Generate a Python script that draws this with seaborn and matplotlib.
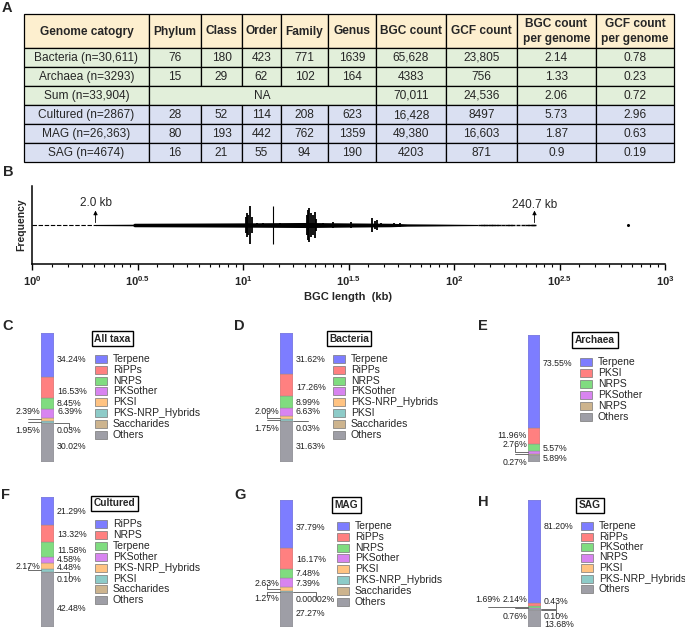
import matplotlib
matplotlib.use("Agg")
import matplotlib.pyplot as plt
from matplotlib.patches import Rectangle
from matplotlib.ticker import FixedLocator, FixedFormatter
import numpy as np
import seaborn as sns

# ---------------- estilo ----------------
sns.set_style("white")
plt.rcParams["font.family"] = ["Liberation Sans", "DejaVu Sans"]
plt.rcParams["mathtext.fontset"] = "custom"
plt.rcParams["mathtext.bf"] = "Liberation Sans:bold"
plt.rcParams["mathtext.rm"] = "Liberation Sans"

W, H = 685, 629

# ---------------- A: tabela ----------------
tab_header = ["Genome catogry", "Phylum", "Class", "Order", "Family", "Genus",
              "BGC count", "GCF count", "BGC count\nper genome", "GCF count\nper genome"]
genome_cat = ["Bacteria (n=30,611)", "Archaea (n=3293)", "Sum (n=33,904)",
              "Cultured (n=2867)", "MAG (n=26,363)", "SAG (n=4674)"]
phylum = [76, 15, None, 28, 80, 16]
klass = [180, 29, None, 52, 193, 21]
order = [423, 62, None, 114, 442, 55]
family = [771, 102, None, 208, 762, 94]
genus = [1639, 164, None, 623, 1359, 190]
bgc_count = [65628, 4383, 70011, 16428, 49380, 4203]
gcf_count = [23805, 756, 24536, 8497, 16603, 871]
bgc_per_genome = ["2.14", "1.33", "2.06", "5.73", "1.87", "0.9"]
gcf_per_genome = ["0.78", "0.23", "0.72", "2.96", "0.63", "0.19"]

# ---------------- B: comprimento dos BGCs ----------------
body_len = [2.0, 3.0, 3.05, 6.0, 10.0, 20.0, 30.0, 50.0, 60.0, 80.0, 100.0, 130.0]
body_h = [0.015, 0.02, 0.045, 0.05, 0.055, 0.065, 0.055, 0.045, 0.03, 0.025, 0.02, 0.015]
spike_len = [10.3, 10.4, 10.6, 10.8, 11.0, 11.6, 12.4, 15.0, 20.0, 20.3, 20.6, 21.0,
             21.5, 21.9, 22.3, 24.0, 26.7, 32.4, 40.8, 42.0, 43.2, 45.0, 52.0, 55.5]
spike_h = [0.2, 0.31, 0.25, 0.49, 0.2, 0.06, 0.05, 0.05, 0.25, 0.38, 0.44, 0.3,
           0.25, 0.33, 0.15, 0.05, 0.07, 0.07, 0.19, 0.1, 0.14, 0.06, 0.06, 0.05]
thin_len = [13.9]
thin_h = [0.49]
left_tail = [1.0, 2.0]
right_tail = [133, 137, 141, 145, 149, 153, 158, 163, 170, 178, 185, 190, 200,
              213, 222, 229, 237, 240.7, 668]
min_len, max_len = 2.0, 240.7

# ---------------- C-H: composicao das classes ----------------
C_classes = ["Terpene", "RiPPs", "NRPS", "PKSother", "PKSI", "PKS-NRP_Hybrids", "Saccharides", "Others"]
C_pct = [34.24, 16.53, 8.45, 6.39, 2.39, 1.95, 0.03, 30.02]
D_classes = ["Terpene", "RiPPs", "NRPS", "PKSother", "PKS-NRP_Hybrids", "PKSI", "Saccharides", "Others"]
D_pct = [31.62, 17.26, 8.99, 6.63, 2.09, 1.75, 0.03, 31.63]
E_classes = ["Terpene", "PKSI", "NRPS", "PKSother", "NRPS", "Others"]
E_pct = [73.55, 11.96, 5.57, 2.76, 0.27, 5.89]
F_classes = ["RiPPs", "NRPS", "Terpene", "PKSother", "PKS-NRP_Hybrids", "PKSI", "Saccharides", "Others"]
F_pct = [21.29, 13.32, 11.58, 4.58, 4.48, 2.17, 0.10, 42.48]
G_classes = ["Terpene", "RiPPs", "NRPS", "PKSother", "PKSI", "PKS-NRP_Hybrids", "Saccharides", "Others"]
G_pct = [37.79, 16.17, 7.48, 7.39, 2.63, 1.27, 0.00002, 27.27]
H_classes = ["Terpene", "RiPPs", "PKSother", "NRPS", "PKSI", "PKS-NRP_Hybrids", "Others"]
H_pct = [81.20, 2.14, 1.69, 0.76, 0.43, 0.10, 13.68]

cores = {"azul": "#7D7DFF", "verm": "#FF8080", "verde": "#80DC80", "roxo": "#D884F0",
         "lar": "#FFC382", "teal": "#8DCBC8", "tan": "#CDB48E", "cinza": "#9E9EA6"}
seq8 = ["azul", "verm", "verde", "roxo", "lar", "teal", "tan", "cinza"]

# layout (pixels) de cada painel
paineis = [
    ("C", C_classes, C_pct, dict(bar=(41, 333, 54, 462), letra=(8, 326), titulo="All taxa",
        tit=(112.5, 338.5), leg=(95, 359, 10.8), cores=seq8,
        rot=[("r", 79.8, False, 0), ("r", 55.0, False, 0), ("r", 45.7, False, 0), ("r", 39.5, False, 0),
             ("l", 39.5, True, 0), ("l", 24.8, True, 0), ("r", 24.8, True, 0), ("r", 12.4, False, 0)])),
    ("D", D_classes, D_pct, dict(bar=(280, 333, 293, 462), letra=(239, 326), titulo="Bacteria",
        tit=(349, 338.5), leg=(333, 359, 10.8), cores=seq8,
        rot=[("r", 79.8, False, 0), ("r", 57.4, False, 0), ("r", 46.5, False, 0), ("r", 38.8, False, 0),
             ("l", 38.8, True, 0), ("l", 25.6, True, 0), ("r", 25.6, True, 0), ("r", 12.4, False, 0)])),
    ("E", E_classes, E_pct, dict(bar=(528, 335, 540, 462), letra=(483, 326), titulo="Archaea",
        tit=(595, 340), leg=(580, 362, 11.0),
        cores=["azul", "verm", "verde", "roxo", "tan", "cinza"],
        rot=[("r", 77.2, False, 0), ("l", 20.6, False, 0), ("r", 11.0, False, 0),
             ("l", 13.6, True, 0), ("l", -0.4, True, 0), ("r", 2.4, False, 0)])),
    ("F", F_classes, F_pct, dict(bar=(41, 497, 54, 627), letra=(6, 495), titulo="Cultured",
        tit=(114.5, 503.5), leg=(95, 524, 10.9), cores=seq8,
        rot=[("r", 88.5, False, 0), ("r", 70.8, False, 0), ("r", 58.5, False, 0), ("r", 52.3, False, 0),
             ("r", 45.4, False, 0), ("l", 46.9, True, 0), ("r", 36.9, True, 0), ("r", 14.6, False, 0)])),
    ("G", G_classes, G_pct, dict(bar=(280, 500, 293, 627), letra=(240, 495), titulo="MAG",
        tit=(346.5, 505), leg=(337, 526, 10.8), cores=seq8,
        rot=[("r", 78.7, False, 0), ("r", 52.8, False, 0), ("r", 42.5, False, 0), ("r", 34.6, False, 0),
             ("l", 34.6, True, 0), ("l", 22.8, True, 0), ("r", 21.3, True, 0), ("r", 11.0, False, 0)])),
    ("H", H_classes, H_pct, dict(bar=(528, 500, 541, 627), letra=(483, 502), titulo="SAG",
        tit=(590, 505.5), leg=(581, 526, 10.5),
        cores=["azul", "verm", "verde", "roxo", "lar", "teal", "cinza"],
        rot=[("r", 79.5, False, 0), ("l", 22.0, False, 0), ("l", 22.0, True, -27), ("l", 7.9, True, 0),
             ("r", 19.7, True, 0), ("r", 8.6, True, 0), ("r", 1.6, False, 0)])),
]


def eixo_px(fig, x0, y0, x1, y1):
    """Cria um eixo a partir de uma caixa em pixels (origem no canto superior esquerdo)."""
    return fig.add_axes([x0 / W, 1 - y1 / H, (x1 - x0) / W, (y1 - y0) / H])


def fmt_num(v):
    if isinstance(v, str):
        return v
    return f"{v:,}" if v >= 10000 else str(v)


def fmt_pct(v):
    return f"{v:.5f}%" if v < 0.01 else f"{v:.2f}%"


fig = plt.figure(figsize=(W / 100, H / 100), dpi=100)

# eixo de fundo em pixels para tabela, letras e legendas
ax0 = fig.add_axes([0, 0, 1, 1])
ax0.set_xlim(0, W)
ax0.set_ylim(H, 0)
ax0.axis("off")

letras = {"A": (7, 8), "B": (8, 172)}
for k, (lx, ly) in letras.items():
    ax0.text(lx, ly, k, ha="center", va="center", fontsize=10.5, fontweight="bold")

# ---- tabela ----
col_x = [24, 149, 201, 242, 281, 328, 376, 446, 517, 596, 674]
row_y = [14, 48, 67, 86, 105, 124, 143, 162]
fundo_cab = "#FDEFCF"
fundo_lin = ["#E2EFDA"] * 3 + ["#DAE0F2"] * 3
colunas = [phylum, klass, order, family, genus, bgc_count, gcf_count, bgc_per_genome, gcf_per_genome]

for c, nome in enumerate(tab_header):
    x0, x1 = col_x[c], col_x[c + 1]
    ax0.add_patch(Rectangle((x0, row_y[0]), x1 - x0, row_y[1] - row_y[0],
                            fc=fundo_cab, ec="black", lw=0.9))
    ax0.text((x0 + x1) / 2, (row_y[0] + row_y[1]) / 2 + 0.5, nome, ha="center", va="center",
             fontsize=8.6, fontweight="bold", linespacing=1.25)

for r, cat in enumerate(genome_cat):
    y0, y1 = row_y[r + 1], row_y[r + 2]
    celulas = [(col_x[0], col_x[1], cat)]
    if phylum[r] is None:
        celulas.append((col_x[1], col_x[6], "NA"))
        inicio = 5
    else:
        inicio = 0
    for c in range(inicio, len(colunas)):
        celulas.append((col_x[c + 1], col_x[c + 2], fmt_num(colunas[c][r])))
    for x0, x1, txt in celulas:
        ax0.add_patch(Rectangle((x0, y0), x1 - x0, y1 - y0, fc=fundo_lin[r], ec="black", lw=0.9))
        ax0.text((x0 + x1) / 2, (y0 + y1) / 2 + 0.5, txt, ha="center", va="center", fontsize=8.6)

# ---- B ----
axB = eixo_px(fig, 32, 186, 665, 264)
axB.set_facecolor("none")
axB.set_xscale("log")
axB.fill_between(body_len, [-h for h in body_h], body_h, color="black", lw=0)
axB.vlines(spike_len, [-h for h in spike_h], spike_h, color="black", lw=1.3)
axB.vlines(thin_len, [-h for h in thin_h], thin_h, color="black", lw=0.8)
axB.plot(left_tail, [0] * len(left_tail), color="black", lw=0.8, ls=(0, (4, 1.5)))
axB.plot(right_tail[:-1], [0] * (len(right_tail) - 1), ls="none", marker="_", ms=2.5,
         mew=1.0, color="black")
axB.plot(right_tail[-1:], [0], ls="none", marker="o", ms=1.2, color="black")
for comp, yt in [(min_len, 0.56), (max_len, 0.51)]:
    axB.annotate("", xy=(comp, 0.37), xytext=(comp, 0.06),
                 arrowprops=dict(arrowstyle="-|>", lw=0.6, color="black", mutation_scale=6,
                                 shrinkA=0, shrinkB=0))
    axB.text(comp, yt, f"{comp:.1f} kb", ha="center", va="center", fontsize=8.5)
axB.set_xlim(1, 1000)
axB.set_ylim(-1, 1)
sns.despine(ax=axB)
for s in ["left", "bottom"]:
    axB.spines[s].set_color("black")
    axB.spines[s].set_linewidth(1.1)
expo = np.arange(0, 3.01, 0.5)
maiores = 10 ** expo
menores = []
for a, b in zip(maiores[:-1], maiores[1:]):
    menores += [a + k * (b - a) / 9 for k in range(1, 9)]
axB.xaxis.set_major_locator(FixedLocator(maiores))
axB.xaxis.set_major_formatter(FixedFormatter([r"$\mathbf{10^{%g}}$" % e for e in expo]))
axB.xaxis.set_minor_locator(FixedLocator(menores))
axB.xaxis.set_minor_formatter(FixedFormatter([""] * len(menores)))
axB.tick_params(axis="x", which="major", direction="out", length=4, width=1.0,
                labelsize=8, pad=3, bottom=True, color="black")
axB.tick_params(axis="x", which="minor", direction="out", length=2.5, width=0.8,
                bottom=True, color="black")
axB.set_yticks([])
axB.set_xlabel("BGC length  (kb)", fontsize=8, fontweight="bold", labelpad=3)
axB.set_ylabel("Frequency", fontsize=7.5, fontweight="bold", labelpad=4)

# ---- C-H ----
for letra, classes, pct, lay in paineis:
    x0, y0, x1, y1 = lay["bar"]
    ax = eixo_px(fig, x0, y0, x1, y1)
    ax.set_facecolor("none")
    cols = [cores[n] for n in lay["cores"]]
    base = 0.0
    faixas = [None] * len(pct)
    for i in reversed(range(len(pct))):
        sns.barplot(x=[0], y=[pct[i]], bottom=base, color=cols[i], width=0.8, saturation=1,
                    errorbar=None, edgecolor="#8c8c8c", linewidth=0.3, ax=ax)
        faixas[i] = (base, base + pct[i])
        base += pct[i]
    ax.set_xlim(-0.4, 0.4)
    ax.set_ylim(0, 100)
    ax.axis("off")

    px_pct = (y1 - y0) / 100.0
    for i, (lado, ly, guia, dx) in enumerate(lay["rot"]):
        borda = 0.4 if lado == "r" else -0.4
        ha = "left" if lado == "r" else "right"
        off = (3 + dx) if lado == "r" else (-1 + dx)
        txt = fmt_pct(pct[i])
        if guia:
            meio = sum(faixas[i]) / 2
            ax.annotate(txt, xy=(borda, meio), xytext=(off, (ly - meio) * px_pct),
                        textcoords="offset pixels", ha=ha, va="center", fontsize=6.3,
                        color="#222222", annotation_clip=False,
                        arrowprops=dict(arrowstyle="-", color="#555555", lw=0.6, shrinkA=0.5,
                                        shrinkB=0, connectionstyle="angle,angleA=90,angleB=0,rad=0"))
        else:
            ax.annotate(txt, xy=(borda, ly), xytext=(off, 0), textcoords="offset pixels",
                        ha=ha, va="center", fontsize=6.3, color="#222222", annotation_clip=False)

    lx, ly = lay["letra"]
    ax0.text(lx, ly, letra, ha="center", va="center", fontsize=10.5, fontweight="bold")
    tx, ty = lay["tit"]
    ax0.text(tx, ty, lay["titulo"], ha="center", va="center", fontsize=7.3, fontweight="bold",
             bbox=dict(boxstyle="square,pad=0.25", fc="white", ec="black", lw=1.0))
    gx, gy, gdy = lay["leg"]
    for k, (nome, cor) in enumerate(zip(classes, cols)):
        yy = gy + k * gdy
        ax0.add_patch(Rectangle((gx, yy - 4), 12, 8, fc=cor, ec="#777777", lw=0.5))
        ax0.text(gx + 18, yy, nome, ha="left", va="center", fontsize=7.5)

fig.savefig("out.png", dpi=100)
